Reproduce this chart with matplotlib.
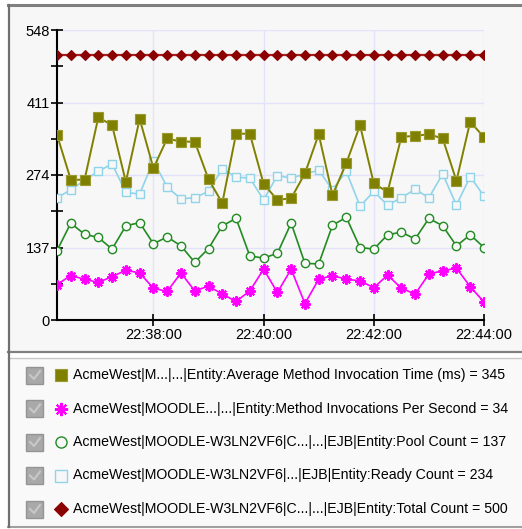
import pandas as pd
import matplotlib
matplotlib.use("Agg")
import matplotlib.pyplot as plt
import matplotlib.dates as mdates
from matplotlib.lines import Line2D
from matplotlib.patches import Rectangle
from matplotlib.ticker import MultipleLocator

# samples every 15 s from 22:36:15 to 22:44:00
times = pd.date_range("2012-01-01 22:36:15", "2012-01-01 22:44:00", freq="15s")

avg_time = [350, 265, 265, 383, 368, 261, 380, 287, 343, 337, 337, 266, 221, 352, 352, 257,
            227, 230, 277, 351, 236, 296, 368, 258, 242, 346, 348, 351, 343, 263, 375, 345]
inv_per_sec = [67, 84, 77, 71, 82, 94, 89, 60, 54, 89, 55, 64, 49, 35, 55, 96,
               52, 96, 31, 77, 84, 77, 74, 61, 85, 60, 49, 87, 93, 98, 63, 34]
pool_count = [131, 183, 162, 156, 134, 178, 184, 144, 157, 140, 109, 135, 178, 192, 121, 117,
              126, 183, 107, 106, 179, 194, 137, 134, 161, 166, 153, 192, 178, 140, 161, 137]
ready_count = [231, 246, 264, 281, 295, 241, 238, 301, 251, 229, 231, 243, 286, 270, 268, 227,
               273, 268, 276, 283, 246, 281, 215, 243, 217, 231, 247, 231, 276, 217, 271, 234]
total_count = [500] * 32

y_ticks = [0, 137, 274, 411, 548]
x_ticks = ["22:38:00", "22:40:00", "22:42:00", "22:44:00"]

labels = [
    "AcmeWest|M...|...|Entity:Average Method Invocation Time (ms) = 345",
    "AcmeWest|MOODLE...|...|Entity:Method Invocations Per Second = 34",
    "AcmeWest|MOODLE-W3LN2VF6|C...|...|EJB|Entity:Pool Count = 137",
    "AcmeWest|MOODLE-W3LN2VF6|...|EJB|Entity:Ready Count = 234",
    "AcmeWest|MOODLE-W3LN2VF6|C...|...|EJB|Entity:Total Count = 500",
]

styles = [
    dict(color="#808000", marker="s", ms=7, mfc="#808000", mec="#9a9a30", mew=0.8, lw=1.4),
    dict(color="#ff00ff", marker=(8, 2, 0), ms=7.5, mfc="#ff00ff", mec="#ff00ff", mew=1.5, lw=1.2),
    dict(color="#228b22", marker="o", ms=6, mfc="#f7f7f7", mec="#228b22", mew=1.0, lw=1.2),
    dict(color="#90d4ea", marker="s", ms=6, mfc="#f7f7f7", mec="#90d4ea", mew=1.0, lw=1.2),
    dict(color="#a82020", marker="D", ms=5, mfc="#8b0000", mec="#8b0000", mew=0.8, lw=1.6),
]
series = [avg_time, inv_per_sec, pool_count, ready_count, total_count]

plt.rcParams["font.family"] = ["Liberation Sans", "DejaVu Sans"]

W, H = 522, 529
fig = plt.figure(figsize=(W / 100, H / 100), dpi=100)
fig.patch.set_facecolor("white")

def fx(px):
    return px / W

def fy(py):
    return 1 - py / H

# chart panel and legend panel
fig.add_artist(Rectangle((fx(9), fy(351)), fx(W), 346 / H, transform=fig.transFigure,
                         facecolor="#f7f7f7", edgecolor="none", zorder=0))
fig.add_artist(Rectangle((fx(9), fy(526)), fx(W), 168 / H, transform=fig.transFigure,
                         facecolor="#f9f9f9", edgecolor="none", zorder=0))
for y0, c, w in [(5, "#808080", 2.2), (352, "#808080", 1.6), (358, "#c8c8c8", 1.0), (527, "#a0a0a0", 1.5)]:
    fig.add_artist(Line2D([fx(8), 1], [fy(y0), fy(y0)], transform=fig.transFigure, color=c, lw=w))
fig.add_artist(Line2D([fx(9), fx(9)], [fy(5), fy(527)], transform=fig.transFigure, color="#707070", lw=1.6))

ax = fig.add_axes([fx(57), fy(320), 427 / W, 290 / H])
ax.set_facecolor("none")

for vals, st in reversed(list(zip(series, styles))):
    ax.plot(times, vals, **st, zorder=3)

ax.set_xlim(times[0], times[-1])
ax.set_ylim(0, 548)
ax.set_yticks(y_ticks)
ax.yaxis.set_minor_locator(MultipleLocator(68.5))
ax.set_xticks(pd.to_datetime(["2012-01-01 " + t for t in x_ticks]))
ax.xaxis.set_major_formatter(mdates.DateFormatter("%H:%M:%S"))
ax.grid(which="major", color="#e2e2fa", lw=1.0, zorder=1)
for s in ["top", "right"]:
    ax.spines[s].set_visible(False)
for s in ["left", "bottom"]:
    ax.spines[s].set_linewidth(1.5)
ax.tick_params(which="both", direction="inout", length=8, width=1.2, labelsize=10.5, pad=1)
ax.tick_params(axis="x", pad=2)

# legend rows
for i, (lab, st) in enumerate(zip(labels, styles)):
    y = 375 + 33.5 * i
    fig.add_artist(Rectangle((fx(26), fy(y + 8.5)), 17 / W, 17 / H, transform=fig.transFigure,
                             facecolor="#a9a9a9", edgecolor="#949494", lw=1))
    fig.add_artist(Line2D([fx(30), fx(34), fx(40)], [fy(y), fy(y + 4), fy(y - 4)],
                          transform=fig.transFigure, color="#c8c8c8", lw=1.5))
    fig.add_artist(Line2D([fx(61)], [fy(y)], transform=fig.transFigure, ls="none",
                          marker=st["marker"], ms=st["ms"] + 2, mfc=st["mfc"], mec=st["mec"],
                          mew=st["mew"]))
    fig.text(fx(73), fy(y), lab, va="center", ha="left", fontsize=10.2)

fig.savefig("out.png", dpi=100)
